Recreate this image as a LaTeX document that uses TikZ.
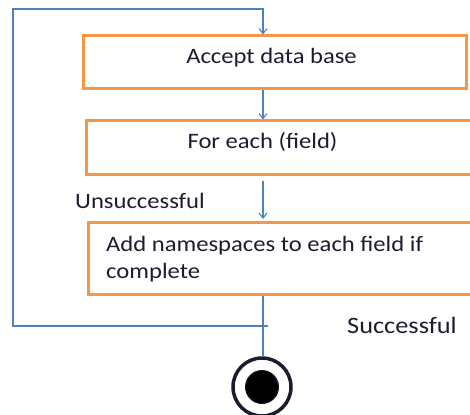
\documentclass[tikz,border=0pt]{standalone}
\usepackage{fontspec}
\setmainfont{Carlito}[FakeStretch=1.12]
\usetikzlibrary{arrows.meta}
\definecolor{boxorange}{HTML}{F79646}
\definecolor{flowblue}{HTML}{4F81BD}
\definecolor{inkdark}{HTML}{1C1C30}
\tikzset{
  stepbox/.style={draw=boxorange, line width=3pt, rectangle, inner sep=0pt},
  flow/.style={draw=flowblue, line width=1.1pt},
  flowarrow/.style={flow, -{Straight Barb[length=5pt,width=8pt,line width=1.1pt]}},
  caption/.style={text=inkdark, font=\fontsize{22}{26.7}\selectfont, inner sep=0pt, anchor=base west},
}
\begin{document}
\begin{tikzpicture}[x=1pt,y=-1pt]
\useasboundingbox (0,0) rectangle (470,414);

% activity boxes
\node[stepbox, minimum width=383pt, minimum height=53pt] (accept) at (274.5,62.5) {};
\node[stepbox, minimum width=386pt, minimum height=53pt] (foreach) at (279,147.5) {};
\node[stepbox, minimum width=384pt, minimum height=72pt] (addns) at (280,258) {};

% box texts (multi-line text sits on the baseline of its last line)
\node[caption, anchor=base] (acceptT) at (271.5,63.3) {Accept data base};
\node[caption, anchor=base] (foreachT) at (262.5,149) {For each (field)};
\node[caption, align=left, anchor=base west] (addnsT) at (106,278.4) {Add namespaces to each field if\\complete};

% guard labels
\node[caption] (unsucc) at (75,208.3) {Unsuccessful};
\node[caption, font=\fontsize{23.5}{28}\selectfont] (succ) at (347,333.3) {Successful};

% final state
\node[circle, draw=inkdark, line width=3.5pt, minimum size=58pt, inner sep=0pt] (final) at (262,387) {};
\node[circle, fill=black, draw=inkdark, line width=1pt, minimum size=33pt, inner sep=0pt] (finaldot) at (final.center) {};

% helper coordinates
\coordinate (top) at (263,9);
\coordinate (topleft) at (13,9);
\coordinate (botleft) at (13,326);
\coordinate (join) at (268,326);
\coordinate (outA) at (263,181);
\coordinate (inA) at (263,219);

% connectors
\draw[flowarrow] (accept.south -| top) -- (foreach.north -| top);
\draw[flowarrow] (outA) -- (inA);
\draw[flow] (addns.south -| top) -- (final.north -| top);
\draw[flowarrow] (join) -- (botleft) -- (topleft) -- (top) -- (accept.north -| top);
\end{tikzpicture}
\end{document}
